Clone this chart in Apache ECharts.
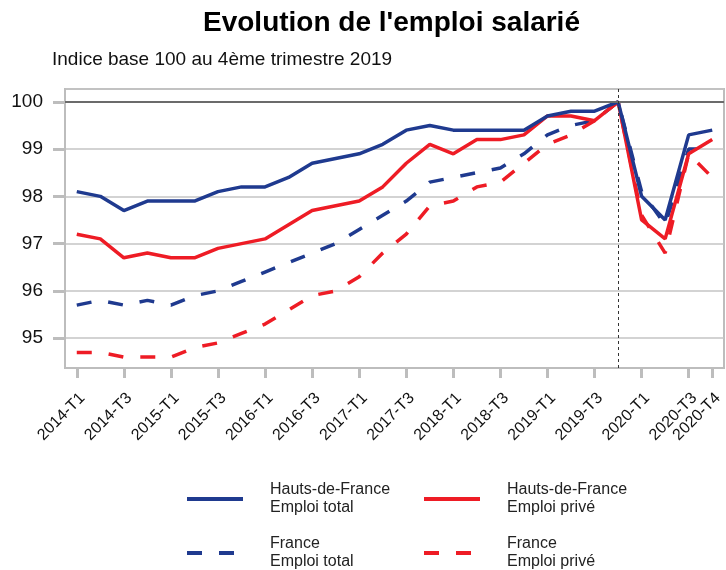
<!DOCTYPE html>
<html>
<head>
<meta charset="utf-8">
<script src="https://cdn.jsdelivr.net/npm/echarts@6/dist/echarts.min.js"></script>
<style>html,body{margin:0;padding:0;background:#fff}#c{width:726px;height:570px}</style>
</head>
<body>
<div id="c"></div>
<script>
var categories = ['2014-T1','2014-T2','2014-T3','2014-T4','2015-T1','2015-T2','2015-T3','2015-T4','2016-T1','2016-T2','2016-T3','2016-T4','2017-T1','2017-T2','2017-T3','2017-T4','2018-T1','2018-T2','2018-T3','2018-T4','2019-T1','2019-T2','2019-T3','2019-T4','2020-T1','2020-T2','2020-T3','2020-T4'];
var hdfTotal = [98.1, 98.0, 97.7, 97.9, 97.9, 97.9, 98.1, 98.2, 98.2, 98.4, 98.7, 98.8, 98.9, 99.1, 99.4, 99.5, 99.4, 99.4, 99.4, 99.4, 99.7, 99.8, 99.8, 100, 98.0, 97.5, 99.3, 99.4];
var hdfPrive = [97.2, 97.1, 96.7, 96.8, 96.7, 96.7, 96.9, 97.0, 97.1, 97.4, 97.7, 97.8, 97.9, 98.2, 98.7, 99.1, 98.9, 99.2, 99.2, 99.3, 99.7, 99.7, 99.6, 100, 97.5, 97.1, 98.9, 99.2];
var frTotal = [95.7, 95.8, 95.7, 95.8, 95.7, 95.9, 96.0, 96.2, 96.4, 96.6, 96.8, 97.0, 97.3, 97.6, 97.9, 98.3, 98.4, 98.5, 98.6, 98.9, 99.3, 99.5, 99.6, 100, 98.1, 97.4, 99.0, 99.0];
var frPrive = [94.7, 94.7, 94.6, 94.6, 94.6, 94.8, 94.9, 95.1, 95.3, 95.6, 95.9, 96.0, 96.3, 96.8, 97.2, 97.8, 97.9, 98.2, 98.3, 98.7, 99.1, 99.3, 99.6, 100, 97.6, 96.8, 98.9, 98.4];
var seriesNames = ['Hauts-de-France\nEmploi total', 'Hauts-de-France\nEmploi privé', 'France\nEmploi total', 'France\nEmploi privé'];
var titleText = "Evolution de l'emploi salarié";
var subtitleText = 'Indice base 100 au 4ème trimestre 2019';
var baseCategory = '2019-T4';
var baseValue = 100;

var BLUE = '#1f3a8f', RED = '#ee1c25';
var FONT = '"Liberation Sans", Arial, sans-serif';
function showIdx(i){ return i % 2 === 0 || i === categories.length - 1; }
function legendFor(name, left, top){
  return { data:[name], left:left, top:top, itemWidth:56, itemHeight:14, padding:0,
    itemStyle:{ opacity:0 }, lineStyle:{ width:4 },
    textStyle:{ fontFamily:FONT, fontSize:16, color:'#222', lineHeight:18, padding:[0,0,0,22] } };
}
function line(name, data, color, dashed, extra){
  var s = { name:name, type:'line', data:data, symbol:'none', showSymbol:false, smooth:false,
    lineStyle:{ color:color, width:3.5, type: dashed ? [15,17] : 'solid' },
    itemStyle:{ color:color }, z: dashed ? 2 : 3, animation:false };
  if (extra) for (var k in extra) s[k] = extra[k];
  return s;
}
var chart = echarts.init(document.getElementById('c'), null, {renderer:'canvas'});
chart.setOption({
  backgroundColor:'#fff',
  animation:false,
  title:[
    { text:titleText, left:198, top:4, textStyle:{ fontFamily:FONT, fontSize:28, fontWeight:'bold', color:'#000' } },
    { text:subtitleText, left:47, top:45, textStyle:{ fontFamily:FONT, fontSize:19, fontWeight:'normal', color:'#111' } }
  ],
  legend:[
    legendFor(seriesNames[0], 185, 481),
    legendFor(seriesNames[1], 422, 481),
    legendFor(seriesNames[2], 185, 535),
    legendFor(seriesNames[3], 422, 535)
  ],
  grid:{ left:65, right:2, top:89, bottom:202, show:true, borderColor:'#bdbdbd', borderWidth:2, containLabel:false },
  xAxis:{ type:'category', data:categories, boundaryGap:true,
    axisLine:{ show:true, lineStyle:{ color:'#bdbdbd', width:2 } },
    axisTick:{ show:true, alignWithLabel:true, length:10, interval:function(i){return showIdx(i);}, lineStyle:{ color:'#bdbdbd', width:3 } },
    axisLabel:{ interval:function(i){return showIdx(i);}, rotate:45, margin:22, align:'right', verticalAlign:'top',
      fontFamily:FONT, fontSize:16, color:'#111' },
    splitLine:{ show:false } },
  yAxis:{ type:'value', min:94.37, max:100.27, splitNumber:5,
    axisLine:{ show:true, lineStyle:{ color:'#bdbdbd', width:2 } },
    axisTick:{ show:true, length:12, lineStyle:{ color:'#bdbdbd', width:3 } },
    axisLabel:{ showMinLabel:false, showMaxLabel:false, margin:22, fontFamily:FONT, fontSize:19, color:'#111',
      formatter:function(v){ return Math.abs(v - Math.round(v)) < 1e-6 ? String(Math.round(v)) : ''; } },
    splitLine:{ show:true, lineStyle:{ color:'#c4c4c4', width:1.5 } } },
  series:[
    line(seriesNames[2], frTotal, BLUE, true),
    line(seriesNames[3], frPrive, RED, true),
    line(seriesNames[1], hdfPrive, RED, false),
    line(seriesNames[0], hdfTotal, BLUE, false, {
      markLine:{ silent:true, symbol:'none', label:{show:false}, animation:false,
        data:[
          { yAxis:baseValue, lineStyle:{ color:'#6b6b6b', width:2, type:'solid' } },
          { xAxis:baseCategory, lineStyle:{ color:'#333', width:1, type:[3,3] } }
        ] } })
  ]
});
</script>
</body>
</html>
